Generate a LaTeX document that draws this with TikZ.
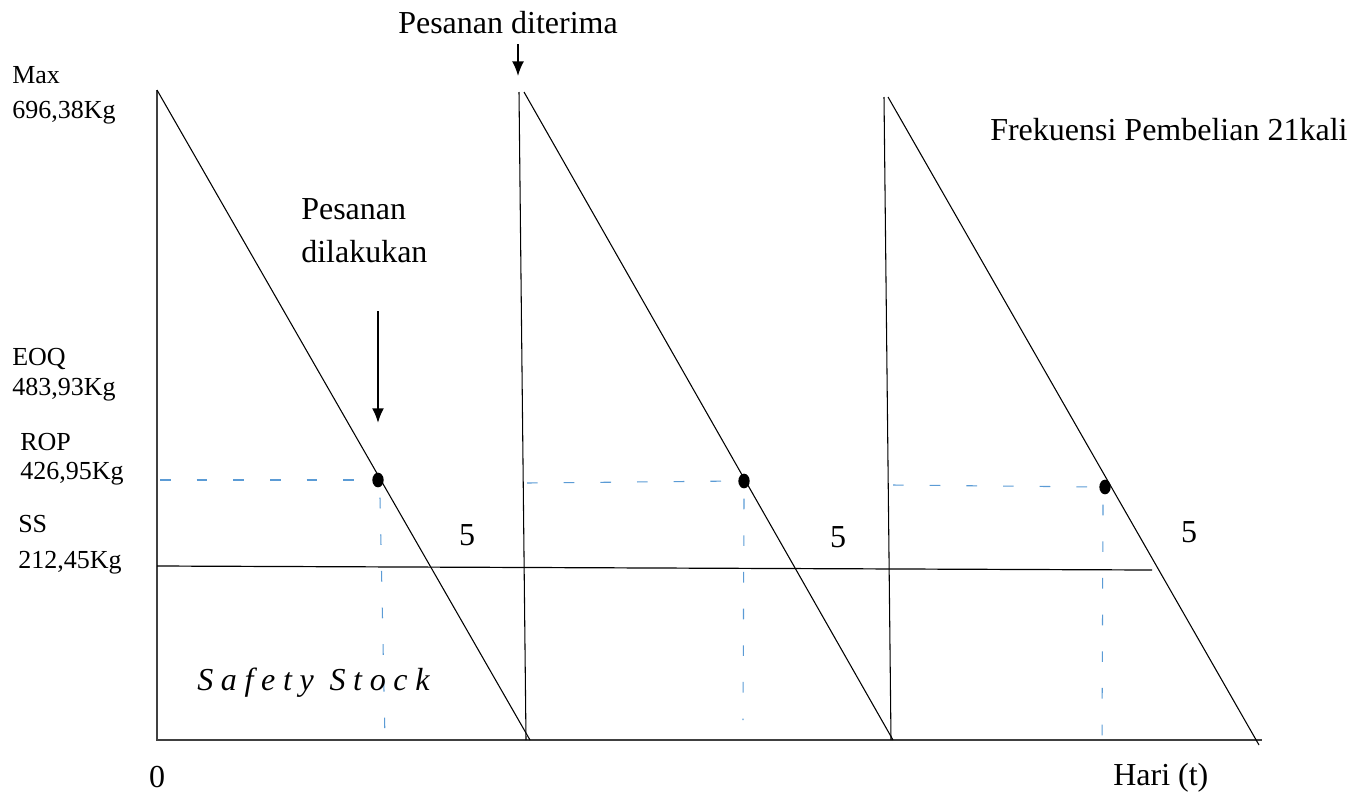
\documentclass[tikz,border=0pt]{standalone}
\usepackage{fontspec}
\setmainfont{Liberation Serif}
\usepackage{xcolor}
\usepackage{tikz}
\usetikzlibrary{shapes.geometric, arrows.meta, positioning}
\definecolor{ropblue}{RGB}{91,155,213}

\begin{document}
\begin{tikzpicture}[
    x=0.75pt, y=-0.75pt,
    >=Latex,
    font=\fontsize{19.5}{22}\selectfont,
    axisline/.style={draw=black!75, line width=1.2pt},
    sawline/.style={draw=black, line width=0.8pt},
    ssline/.style={draw=black, line width=0.9pt},
    ropline/.style={draw=ropblue, line width=0.8pt, dash pattern=on 8pt off 19.5pt},
    ropdot/.style={ellipse, fill=black, inner sep=0pt, minimum width=8.5pt, minimum height=11pt},
    valuenode/.style={anchor=base west, inner sep=0pt},
    bignode/.style={inner sep=0pt, font=\fontsize{24}{28}\selectfont},
    orderarrow/.style={->, >={Latex[length=11pt, width=9pt]}, line width=1.6pt}
  ]
  \useasboundingbox (0,0) rectangle (1366,793);

  % Axes
  \coordinate (origin) at (157,740);
  \coordinate (ytop) at (157,90);
  \coordinate (xend) at (1262,740);
  \draw[axisline] (ytop) -- (origin) -- (xend);

  % Sawtooth of stock level
  \coordinate (top1) at (157,90);
  \coordinate (bot1) at (530,740);
  \coordinate (rise2b) at (526,740);
  \coordinate (rise2t) at (519,92);
  \coordinate (top2) at (524,92);
  \coordinate (bot2) at (893,740);
  \coordinate (rise3b) at (891,740);
  \coordinate (rise3t) at (884,97);
  \coordinate (top3) at (888,97);
  \coordinate (bot3) at (1259,745);
  \draw[sawline] (top1) -- (bot1);
  \draw[sawline] (rise2b) -- (rise2t);
  \draw[sawline] (top2) -- (bot2);
  \draw[sawline] (rise3b) -- (rise3t);
  \draw[sawline] (top3) -- (bot3);

  % Safety stock level
  \coordinate (ssstart) at (157,566);
  \coordinate (ssend) at (1152,570);
  \draw[ssline] (ssstart) -- (ssend);

  % Reorder points
  \node[ropdot] (rop1) at (378,480) {};
  \node[ropdot] (rop2) at (744,481) {};
  \node[ropdot] (rop3) at (1105,487) {};

  \coordinate (ropleft1) at (160,480);
  \coordinate (ropleft2) at (527,483);
  \coordinate (ropleft3) at (893,485);
  \coordinate (ropdown1) at (385,740);
  \coordinate (ropdown2) at (743,720);
  \coordinate (ropdown3) at (1102,740);
  \draw[ropline] (ropleft1) -- (rop1.west);
  \draw[ropline] (ropleft2) -- (rop2.west);
  \draw[ropline] (ropleft3) -- (rop3.west);
  \draw[ropline] (rop1.south) ++(2,10) -- (ropdown1);
  \draw[ropline] (rop2.south) ++(0,10) -- (ropdown2);
  \draw[ropline] (rop3.south) ++(-2,10) -- (ropdown3);

  % Level labels
  \node[valuenode] (maxlbl) at (12,83) {Max};
  \node[valuenode] (maxval) at (12,118) {696,38Kg};
  \node[valuenode] (eoqlbl) at (12,365) {EOQ};
  \node[valuenode] (eoqval) at (12,395) {483,93Kg};
  \node[valuenode] (roplbl) at (20,450) {ROP};
  \node[valuenode] (ropval) at (20,479) {426,95Kg};
  \node[valuenode] (sslbl) at (18,532) {SS};
  \node[valuenode] (ssval) at (18,568) {212,45Kg};

  % Order annotations
  \node[bignode, anchor=base] (received) at (508,33) {Pesanan diterima};
  \coordinate (recvfrom) at (518,44);
  \coordinate (recvto) at (518,76);
  \draw[orderarrow, line width=1.3pt] (recvfrom) -- (recvto);

  \node[bignode, anchor=base west] (placed) at (301,219) {Pesanan};
  \node[bignode, anchor=base west] (placed2) at (301,262) {dilakukan};
  \coordinate (placefrom) at (378,311);
  \coordinate (placeto) at (378,423);
  \draw[orderarrow] (placefrom) -- (placeto);

  \node[bignode, anchor=base west] (freq) at (990,140) {Frekuensi Pembelian 21kali};

  % Lead time
  \node[bignode, anchor=base] (lead1) at (467,545) {5};
  \node[bignode, anchor=base] (lead2) at (838,547) {5};
  \node[bignode, anchor=base] (lead3) at (1189,542) {5};

  \node[bignode, anchor=base west, font=\fontsize{24}{28}\selectfont\itshape\addfontfeature{LetterSpace=24}] (safety) at (197,690) {Safety Stock};

  % Axis labels
  \node[bignode, anchor=base] (zero) at (157,787) {0};
  \node[bignode, anchor=base west] (hari) at (1113,785) {Hari (t)};

\end{tikzpicture}
\end{document}
